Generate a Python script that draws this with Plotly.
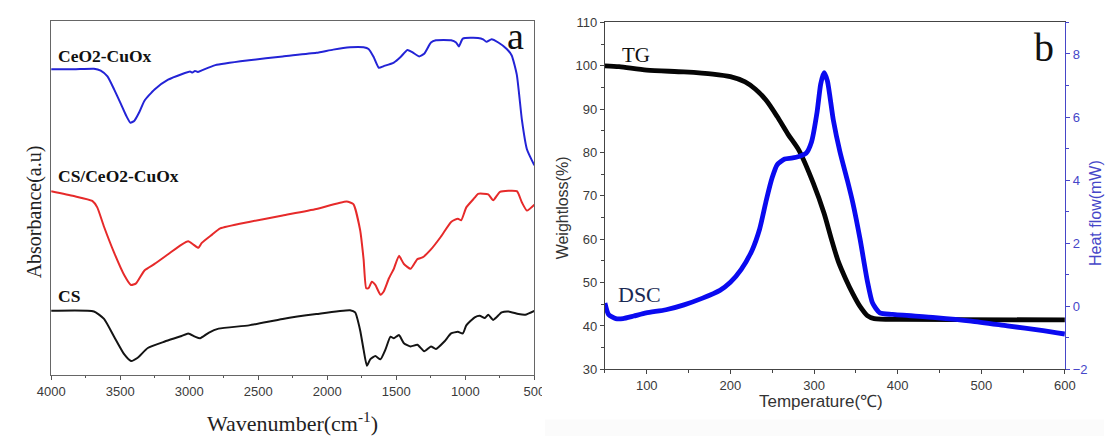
import plotly.graph_objects as go

# ---------------- FTIR spectra (panel a) ----------------
wn_ceo2 = [4000, 3836, 3690, 3641, 3592, 3544, 3495, 3458, 3426, 3397, 3361, 3324, 3251,
           3153, 3055, 2994, 2977, 2958, 2938, 2909, 2811, 2567, 2323, 2079, 1957, 1835,
           1737, 1701, 1664, 1627, 1591, 1518, 1469, 1420, 1384, 1335, 1298, 1249, 1213,
           1103, 1067, 1047, 1018, 908, 871, 847, 810, 761, 700, 664, 627, 590, 554, 500]
ab_ceo2 = [94.5, 94.5, 94.7, 94.1, 92.3, 88.3, 83.8, 80.3, 78.0, 78.6, 81.3, 84.8, 88.3,
           91.3, 93.0, 93.8, 93.5, 94.0, 93.7, 94.2, 95.8, 97.3, 98.5, 99.6, 100.6, 101.3,
           101.3, 100.8, 98.3, 95.0, 95.5, 96.6, 98.3, 100.5, 99.8, 98.5, 99.3, 102.8, 103.5,
           103.5, 102.8, 101.6, 104.0, 104.2, 103.8, 103.0, 103.8, 102.8, 100.8, 98.8, 92.8,
           78.8, 69.8, 64.8]

wn_cs_ceo2 = [4000, 3836, 3702, 3666, 3617, 3544, 3470, 3422, 3385, 3324, 3251, 3153, 3055,
              3007, 2970, 2933, 2909, 2836, 2775, 2567, 2323, 2079, 1860, 1811, 1762, 1737,
              1718, 1701, 1677, 1652, 1615, 1591, 1554, 1518, 1481, 1445, 1396, 1347, 1310,
              1249, 1176, 1103, 1054, 1030, 993, 932, 908, 834, 798, 749, 627, 590, 554, 500]
ab_cs_ceo2 = [56.8, 55.3, 53.8, 51.8, 45.8, 37.8, 30.8, 27.8, 28.3, 32.3, 34.3, 37.3, 40.3,
              41.3, 40.3, 39.3, 40.8, 43.3, 45.3, 47.3, 49.3, 51.3, 53.6, 52.8, 44.8, 35.8,
              26.8, 26.8, 28.8, 27.8, 24.8, 25.8, 29.8, 32.8, 36.8, 34.3, 32.8, 35.8, 36.3,
              38.8, 42.8, 47.3, 48.3, 47.8, 51.8, 54.8, 56.0, 55.8, 54.0, 56.6, 56.8, 53.3,
              50.8, 52.6]

wn_cs = [4000, 3690, 3617, 3544, 3470, 3422, 3373, 3300, 3177, 3055, 3007, 2958, 2921, 2860,
         2787, 2567, 2323, 2079, 1835, 1798, 1762, 1737, 1713, 1689, 1652, 1615, 1579, 1542,
         1518, 1481, 1445, 1396, 1347, 1298, 1249, 1213, 1152, 1103, 1054, 1018, 993, 932,
         896, 859, 834, 798, 737, 688, 615, 566, 500]
ab_cs = [19.8, 19.6, 17.3, 11.8, 6.3, 4.3, 5.3, 8.3, 10.3, 12.0, 12.8, 11.8, 11.3, 13.0,
         14.3, 15.3, 17.3, 18.8, 20.0, 19.3, 13.8, 7.8, 2.8, 4.8, 5.8, 4.8, 7.8, 11.8,
         11.3, 12.3, 9.8, 8.8, 9.3, 7.3, 8.8, 8.0, 10.3, 12.8, 13.3, 12.8, 15.3, 17.8,
         18.3, 17.6, 18.6, 17.0, 19.3, 19.6, 18.8, 18.6, 19.8]

ftir_labels = ["CeO2-CuOx", "CS/CeO2-CuOx", "CS"]
ftir_colors = ["#2323d6", "#e62a2a", "#141414"]

# ---------------- TG / DSC (panel b) ----------------
tg_temp = [50, 67, 100, 144.5, 179, 200, 217.6, 230, 243, 256, 269, 282, 299, 312, 320.7,
           329, 338, 346.5, 355, 363.7, 372, 402, 600]
tg_weight = [100.0, 99.8, 99.0, 98.6, 98.1, 97.5, 96.3, 94.6, 92.0, 88.3, 84.2, 80.5, 73.0,
             66.0, 60.1, 54.9, 50.8, 47.4, 44.5, 42.4, 41.7, 41.5, 41.4]

dsc_temp = [50, 54.3, 63, 71.5, 84.4, 99.4, 123, 144.5, 166, 187.5, 200, 213, 226, 235, 243,
            250, 256, 265, 273, 282, 290.5, 297, 303.5, 308, 312, 316, 323, 331, 340, 346.5,
            355, 363.7, 370, 378.7, 393.8, 445, 488, 531, 574, 600]
dsc_heat = [0.10, -0.26, -0.39, -0.39, -0.31, -0.21, -0.11, 0.045, 0.25, 0.505, 0.76, 1.17,
            1.78, 2.45, 3.37, 4.08, 4.49, 4.67, 4.70, 4.75, 4.85, 5.21, 6.13, 7.05, 7.41,
            7.15, 5.92, 4.90, 3.98, 3.27, 2.14, 0.81, 0.10, -0.21, -0.26, -0.36, -0.47,
            -0.62, -0.77, -0.88]

W, H = 1115, 444


def px(x):
    return x / W


def py(y):
    return 1 - y / H


SANS = "Liberation Sans, Arial, sans-serif"
SERIF = "Liberation Serif, Times New Roman, serif"
DSC_AXIS = "#4646c8"

fig = go.Figure()

for wn, ab, name, col in zip([wn_ceo2, wn_cs_ceo2, wn_cs], [ab_ceo2, ab_cs_ceo2, ab_cs],
                             ftir_labels, ftir_colors):
    fig.add_trace(go.Scatter(x=wn, y=ab, mode="lines", name=name,
                             line=dict(color=col, width=2, shape="spline", smoothing=0.5),
                             xaxis="x", yaxis="y", showlegend=False))

fig.add_trace(go.Scatter(x=tg_temp, y=tg_weight, mode="lines", name="TG",
                         line=dict(color="#050505", width=4.8, shape="spline", smoothing=0.7),
                         xaxis="x2", yaxis="y2", showlegend=False))
fig.add_trace(go.Scatter(x=dsc_temp, y=dsc_heat, mode="lines", name="DSC",
                         line=dict(color="#0a0af0", width=4.8, shape="spline", smoothing=0.6),
                         xaxis="x2", yaxis="y3", showlegend=False))

tickfont = dict(family=SANS, size=13, color="#3a3a3a")

fig.update_layout(
    width=W, height=H,
    margin=dict(l=0, r=0, t=0, b=0),
    paper_bgcolor="white", plot_bgcolor="white",
    xaxis=dict(domain=[px(38), px(532.3)], range=[4000, 500], anchor="y",
               dtick=500, tick0=0, ticks="outside", ticklen=4, tickwidth=1.2,
               tickcolor="#555", showline=True, linecolor="#666", linewidth=1.4,
               mirror=True, showgrid=False, zeroline=False, tickfont=tickfont,
               minor=dict(dtick=250, ticks="outside", ticklen=2, tickcolor="#555")),
    yaxis=dict(domain=[py(380.7), py(15)], range=[0, 109.3], anchor="x",
               showticklabels=False, ticks="", showline=True, linecolor="#666",
               linewidth=1.4, mirror=True, showgrid=False, zeroline=False),
    xaxis2=dict(domain=[px(604.5), px(1075)], range=[50, 600], anchor="y2",
                dtick=100, tick0=0, ticks="outside", ticklen=4, tickwidth=1.2,
                tickcolor="#444", showline=True, linecolor="#444", linewidth=1.3,
                mirror=True, showgrid=False, zeroline=False, tickfont=tickfont,
                minor=dict(dtick=50, ticks="outside", ticklen=3, tickcolor="#444")),
    yaxis2=dict(domain=[py(375), py(16)], range=[30, 110], anchor="x2",
                dtick=10, tick0=0, ticks="outside", ticklen=4, tickwidth=1.2,
                tickcolor="#444", showline=True, linecolor="#444", linewidth=1.3,
                showgrid=False, zeroline=False, tickfont=tickfont,
                minor=dict(dtick=5, ticks="outside", ticklen=3, tickcolor="#444")),
    yaxis3=dict(range=[-2, 9], overlaying="y2", side="right", anchor="x2",
                tickvals=[-2, 0, 2, 4, 6, 8], ticks="outside", ticklen=4, tickwidth=1.2,
                tickcolor=DSC_AXIS, showline=True, linecolor=DSC_AXIS, linewidth=1.3,
                showgrid=False, zeroline=False,
                tickfont=dict(family=SANS, size=13, color=DSC_AXIS),
                minor=dict(dtick=1, ticks="outside", ticklen=3, tickcolor=DSC_AXIS)),
)

# the left image is cropped just past its last tick label
fig.add_shape(type="rect", xref="paper", yref="paper", x0=px(540), x1=px(560),
              y0=py(410), y1=py(384), fillcolor="white", line=dict(width=0), layer="above")
# faint edge of the right-hand image
fig.add_shape(type="rect", xref="paper", yref="paper", x0=px(543), x1=1, y0=0, y1=py(427),
              fillcolor="#fbfbfb", line=dict(width=0), layer="below")


def label(x, y, text, size, family, color="#111", angle=0, xanchor="center", bold=False):
    if bold:
        text = "<b>" + text + "</b>"
    fig.add_annotation(x=px(x), y=py(y), xref="paper", yref="paper", text=text,
                       showarrow=False, xanchor=xanchor, yanchor="middle", textangle=angle,
                       font=dict(family=family, size=size, color=color))


# panel a
label(43, 51, ftir_labels[0], 17.5, SERIF, xanchor="left", bold=True)
label(43, 175, ftir_labels[1], 17.5, SERIF, xanchor="left", bold=True)
label(43, 299, ftir_labels[2], 17.5, SERIF, xanchor="left", bold=True)
label(513, 30, "a", 38, SERIF)
label(285, 429, "Wavenumber(cm<sup>-1</sup>)", 22, SERIF, color="#222")
label(21, 212, "Absorbance(a.u)", 20, SERIF, color="#222", angle=-90)

# panel b
label(636, 50, "TG", 21, SERIF, color="#111")
label(640, 298, "DSC", 22, SERIF, color="#1a2a55")
label(1054, 42, "b", 40, SERIF)
label(825, 408, "Temperature(℃)", 17, SANS, color="#333")
label(562, 208, "Weightloss(%)", 16, SANS, color="#333", angle=-90)
label(1107, 213, "Heat flow(mW)", 16, SANS, color=DSC_AXIS, angle=-90)

fig.write_html("out.html")
